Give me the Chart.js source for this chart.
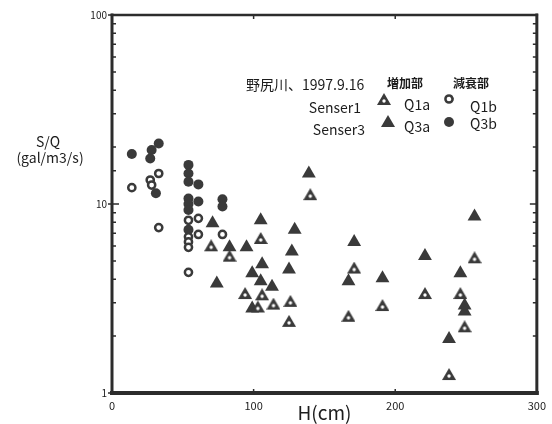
<!DOCTYPE html>
<html>
<head>
<meta charset="utf-8">
<script src="https://cdn.jsdelivr.net/npm/chart.js@4.4.0/dist/chart.umd.min.js"></script>
<style>
  html, body { margin: 0; padding: 0; background: #fff; }
  #wrap { width: 552px; height: 424px; }
</style>
</head>
<body>
<div id="wrap"><canvas id="grafico"></canvas></div>
<script>
// 野尻川 1997.9.16 - S/Q x H
// Senser1 増加部 (Q1a)
var q1a_h  = [140, 70, 83, 105, 94, 106, 103, 114, 126, 125, 171, 167, 191, 256, 221, 246, 249, 238]
var q1a_sq = [11.0, 5.9, 5.2, 6.45, 3.3, 3.25, 2.8, 2.9, 3.0, 2.35, 4.5, 2.5, 2.85, 5.1, 3.3, 3.3, 2.2, 1.23]
// Senser3 増加部 (Q3a)
var q3a_h  = [71, 105, 139, 129, 83, 95, 127, 125, 106, 99, 74, 105, 113, 99, 171, 167, 191, 256, 221, 246, 249, 249, 238]
var q3a_sq = [7.9, 8.2, 14.5, 7.3, 5.9, 5.9, 5.6, 4.5, 4.8, 4.3, 3.8, 3.9, 3.65, 2.8, 6.3, 3.9, 4.05, 8.6, 5.3, 4.3, 2.9, 2.7, 1.93]
// Senser1 減衰部 (Q1b)
var q1b_h  = [14, 27, 28, 33, 33, 54, 61, 54, 61, 78, 54, 54, 54]
var q1b_sq = [12.2, 13.4, 12.6, 14.5, 7.5, 8.2, 8.4, 6.7, 6.9, 6.9, 6.3, 5.9, 4.35]
// Senser3 減衰部 (Q3b)
var q3b_h  = [14, 27, 28, 33, 31, 54, 54, 54, 61, 54, 54, 54, 61, 78, 78, 54]
var q3b_sq = [18.4, 17.4, 19.3, 20.9, 11.4, 16.1, 14.5, 13.1, 12.7, 10.7, 10.0, 9.3, 10.3, 10.6, 9.7, 7.3]

var x_ticks = [0, 100, 200, 300]
var y_labels = [1, 10, 100]

var cor = '#3a3a3a'
var fonte = "'Noto Sans CJK JP', 'Noto Sans', sans-serif"

function pontos(hs, vals) {
    var lista = []
    for (var i = 0; i < hs.length; i++) {
        lista.push({ x: hs[i], y: vals[i] })
    }
    return lista
}

// triângulo cheio com ponto branco (Q1a)
function criarTriangulo() {
    var c = document.createElement('canvas')
    c.width = 14
    c.height = 16
    var g = c.getContext('2d')
    g.fillStyle = cor
    g.beginPath()
    g.moveTo(7, 0)
    g.lineTo(14, 12)
    g.lineTo(0, 12)
    g.closePath()
    g.fill()
    g.fillStyle = '#fff'
    g.beginPath()
    g.arc(7, 8, 1.7, 0, Math.PI * 2)
    g.fill()
    return c
}
var tri_q1a = criarTriangulo()

// desenha moldura, ticks internos e a legenda em texto
const moldura = {
    id: 'moldura',
    afterDatasetsDraw(chart) {
        const ctx = chart.ctx
        const a = chart.chartArea
        const sx = chart.scales.x
        const sy = chart.scales.y
        ctx.save()
        ctx.strokeStyle = '#2c2c2c'
        ctx.lineWidth = 1.5
        sy.ticks.forEach(t => {
            const y = sy.getPixelForValue(t.value)
            const major = y_labels.includes(t.value)
            ctx.beginPath()
            ctx.moveTo(a.left - (major ? 4 : 0), y)
            ctx.lineTo(a.left + (major ? 7 : 4), y)
            ctx.moveTo(a.right, y)
            ctx.lineTo(a.right - (major ? 7 : 4), y)
            ctx.stroke()
        })
        x_ticks.forEach(v => {
            const x = sx.getPixelForValue(v)
            ctx.beginPath()
            ctx.moveTo(x, a.bottom)
            ctx.lineTo(x, a.bottom - 4)
            ctx.moveTo(x, a.top)
            ctx.lineTo(x, a.top + 4)
            ctx.stroke()
        })
        // moldura
        ctx.lineCap = 'square'
        ctx.lineWidth = 2.5
        ctx.beginPath(); ctx.moveTo(a.left, a.top); ctx.lineTo(a.right, a.top); ctx.stroke()
        ctx.lineWidth = 3
        ctx.beginPath(); ctx.moveTo(a.left, a.top); ctx.lineTo(a.left, a.bottom); ctx.stroke()
        ctx.beginPath(); ctx.moveTo(a.right, a.top); ctx.lineTo(a.right, a.bottom); ctx.stroke()
        ctx.lineWidth = 4
        ctx.beginPath(); ctx.moveTo(a.left, a.bottom); ctx.lineTo(a.right, a.bottom); ctx.stroke()

        // textos
        ctx.fillStyle = '#1c1c1c'
        ctx.textBaseline = 'middle'
        ctx.textAlign = 'center'
        ctx.font = '14px ' + fonte
        ctx.fillText('S/Q', 48, 142)
        ctx.fillText('(gal/m3/s)', 50, 158)

        ctx.textAlign = 'left'
        ctx.font = '14px ' + fonte
        ctx.fillText('野尻川、1997.9.16', 246, 85)
        ctx.font = 'bold 12px ' + fonte
        ctx.fillText('増加部', 387, 83)
        ctx.fillText('減衰部', 453, 83)
        ctx.font = '14px ' + fonte
        ctx.textAlign = 'right'
        ctx.fillText('Senser1', 361, 108)
        ctx.fillText('Senser3', 365, 130)
        ctx.textAlign = 'left'
        ctx.fillText('Q1a', 404, 105)
        ctx.fillText('Q3a', 404, 127)
        ctx.fillText('Q1b', 470, 107)
        ctx.fillText('Q3b', 470, 124)

        // marcadores da legenda
        ctx.drawImage(tri_q1a, 384 - 7, 101 - 8)
        ctx.fillStyle = cor
        ctx.beginPath()
        ctx.moveTo(388, 115)
        ctx.lineTo(395, 127)
        ctx.lineTo(381, 127)
        ctx.closePath()
        ctx.fill()
        ctx.beginPath()
        ctx.arc(449, 99, 3.6, 0, Math.PI * 2)
        ctx.fillStyle = '#fff'
        ctx.fill()
        ctx.lineWidth = 2.5
        ctx.strokeStyle = cor
        ctx.stroke()
        ctx.beginPath()
        ctx.arc(449, 122, 5, 0, Math.PI * 2)
        ctx.fillStyle = cor
        ctx.fill()
        ctx.restore()
    }
}

const ctxGrafico = document.getElementById('grafico').getContext('2d')
const grafico = new Chart(ctxGrafico, {
    type: 'scatter',
    data: {
        datasets: [
            {
                label: 'Q1a',
                data: pontos(q1a_h, q1a_sq),
                pointStyle: tri_q1a,
                pointRadius: 7
            },
            {
                label: 'Q3a',
                data: pontos(q3a_h, q3a_sq),
                pointStyle: 'triangle',
                pointRadius: 8,
                backgroundColor: cor,
                borderColor: cor,
                borderWidth: 0
            },
            {
                label: 'Q1b',
                data: pontos(q1b_h, q1b_sq),
                pointStyle: 'circle',
                pointRadius: 3.6,
                backgroundColor: '#fff',
                borderColor: cor,
                borderWidth: 2.5
            },
            {
                label: 'Q3b',
                data: pontos(q3b_h, q3b_sq),
                pointStyle: 'circle',
                pointRadius: 5,
                backgroundColor: cor,
                borderColor: cor,
                borderWidth: 0
            }
        ]
    },
    options: {
        responsive: true,
        maintainAspectRatio: false,
        animation: false,
        layout: { padding: { left: 0, top: 15, right: 13, bottom: 0 } },
        plugins: {
            legend: { display: false },
            tooltip: { enabled: false }
        },
        scales: {
            x: {
                type: 'linear',
                min: 0,
                max: 300,
                afterBuildTicks: (s) => { s.ticks = x_ticks.map(v => ({ value: v })) },
                afterFit: (s) => { s.height = 31 },
                grid: { display: false, drawTicks: false },
                border: { display: false },
                ticks: { padding: 6, color: '#1c1c1c', font: { size: 11, family: fonte } },
                title: {
                    display: true,
                    text: 'H(cm)',
                    color: '#1c1c1c',
                    font: { size: 19, family: fonte },
                    padding: { top: 0, bottom: 0 }
                }
            },
            y: {
                type: 'logarithmic',
                min: 1,
                max: 100,
                afterFit: (s) => { s.width = 112 },
                grid: { display: false, drawTicks: false },
                border: { display: false },
                ticks: {
                    autoSkip: false,
                    padding: 5,
                    color: '#1c1c1c',
                    font: { size: 10, family: fonte },
                    callback: (v) => y_labels.includes(v) ? String(v) : ''
                }
            }
        }
    },
    plugins: [moldura]
})
</script>
</body>
</html>
